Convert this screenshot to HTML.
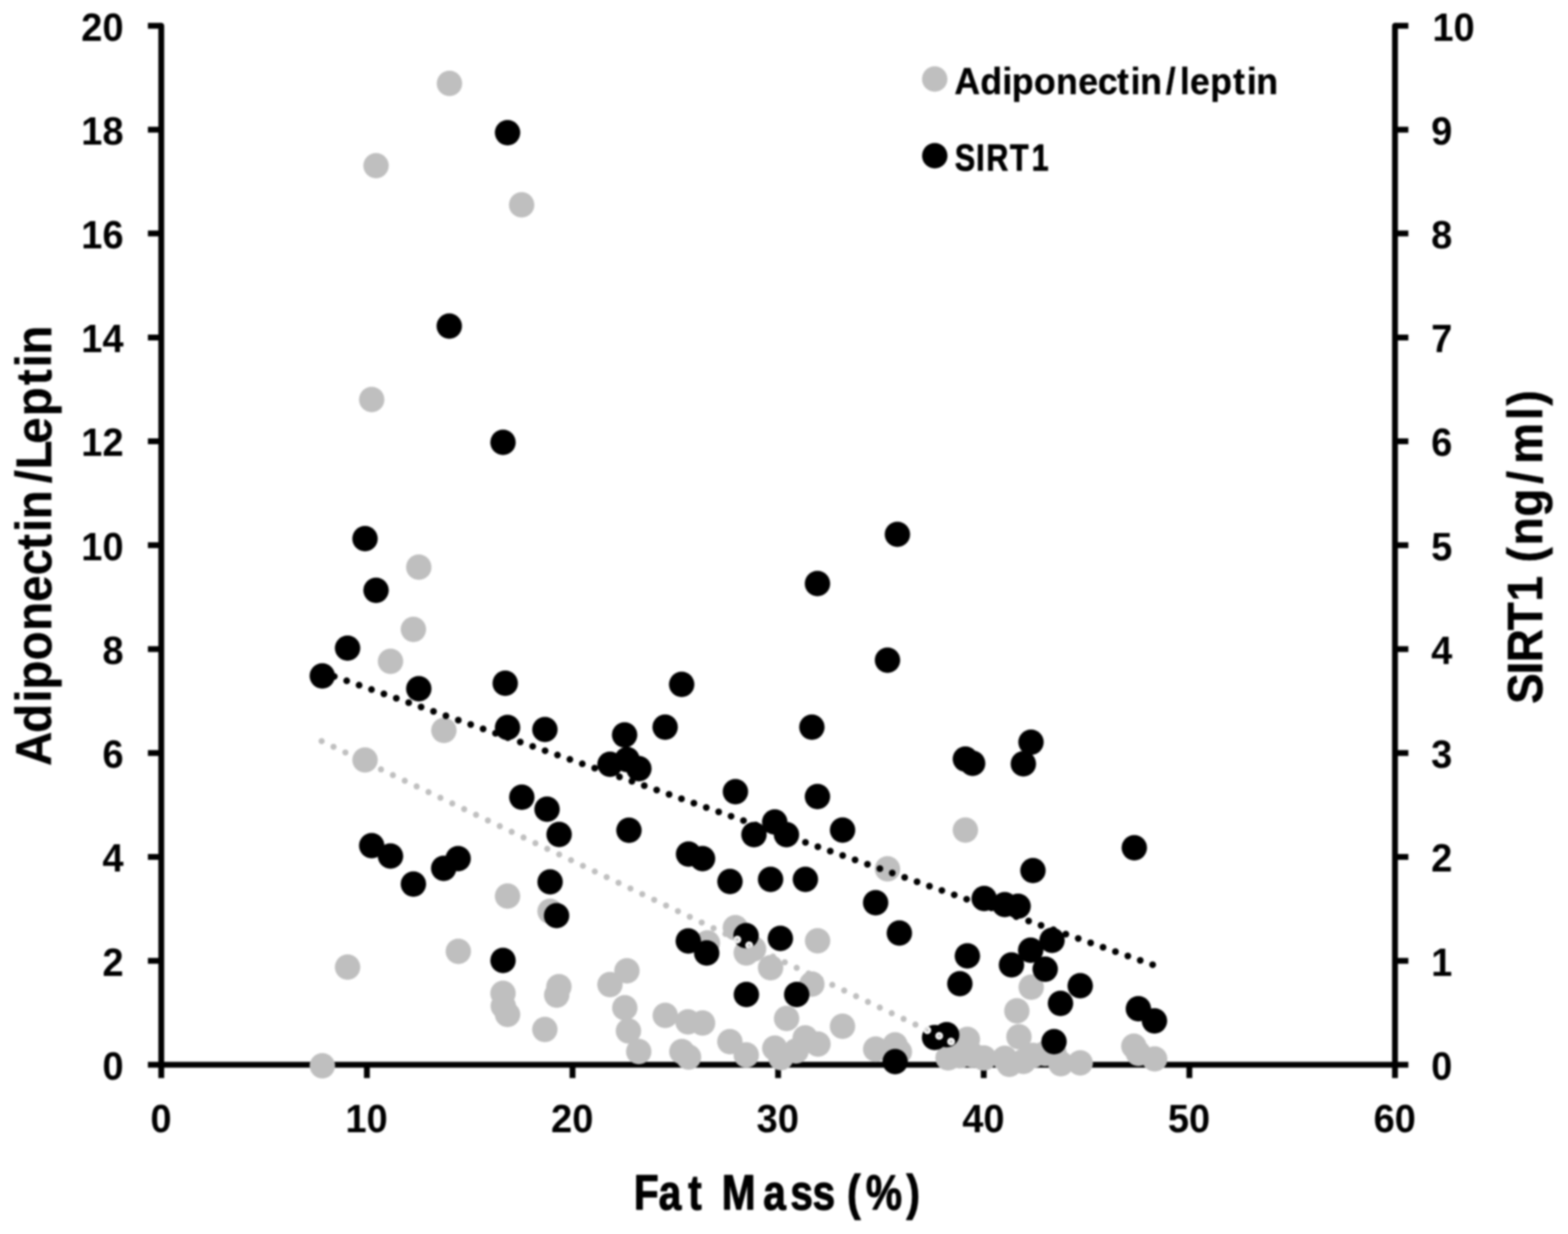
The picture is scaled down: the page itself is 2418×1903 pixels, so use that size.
<!DOCTYPE html>
<html lang="en"><head><meta charset="utf-8">
<title>Adiponectin/Leptin and SIRT1 vs Fat Mass (%)</title>
<style>
html,body{margin:0;padding:0;background:#fff;}
body{width:2418px;height:1903px;overflow:hidden;}
svg{display:block;filter:blur(1.8px);}
text{font-family:"Liberation Sans", sans-serif;font-weight:bold;fill:#000;stroke:#000;stroke-linejoin:round;}
.tk{font-size:61px;stroke-width:0px;}
.ti{font-size:76px;stroke-width:1px;}
.lg{font-size:57.5px;stroke-width:0.8px;}
</style></head><body>
<svg width="2418" height="1903" viewBox="0 0 2418 1903">
<rect width="2418" height="1903" fill="#fff"/>
<g id="axes" fill="none" stroke="#000" stroke-width="9.0" stroke-linecap="butt" stroke-linejoin="round">
<path stroke-linecap="round" d="M248.7 39.7 V1641.9 H2151.2 V39.7"/>
<path d="M248.7 1641.9 h-20.6 M2151.2 1641.9 h20.6 M248.7 1481.7 h-20.6 M2151.2 1481.7 h20.6 M248.7 1321.5 h-20.6 M2151.2 1321.5 h20.6 M248.7 1161.2 h-20.6 M2151.2 1161.2 h20.6 M248.7 1001.0 h-20.6 M2151.2 1001.0 h20.6 M248.7 840.8 h-20.6 M2151.2 840.8 h20.6 M248.7 680.6 h-20.6 M2151.2 680.6 h20.6 M248.7 520.4 h-20.6 M2151.2 520.4 h20.6 M248.7 360.1 h-20.6 M2151.2 360.1 h20.6 M248.7 199.9 h-20.6 M2151.2 199.9 h20.6 M248.7 39.7 h-20.6 M2151.2 39.7 h20.6 M248.7 1641.9 v20.6 M565.8 1641.9 v20.6 M882.9 1641.9 v20.6 M1199.9 1641.9 v20.6 M1517.0 1641.9 v20.6 M1834.1 1641.9 v20.6 M2151.2 1641.9 v20.6"/>
</g>
<g id="ylabels">
<text class="tk" text-anchor="end" transform="translate(190.5 1664.7) scale(0.9600 1)">0</text>
<text class="tk" text-anchor="end" transform="translate(190.5 1504.5) scale(0.9600 1)">2</text>
<text class="tk" text-anchor="end" transform="translate(190.5 1344.3) scale(0.9600 1)">4</text>
<text class="tk" text-anchor="end" transform="translate(190.5 1184.0) scale(0.9600 1)">6</text>
<text class="tk" text-anchor="end" transform="translate(190.5 1023.8) scale(0.9600 1)">8</text>
<text class="tk" text-anchor="end" transform="translate(190.5 863.6) scale(0.9600 1)">10</text>
<text class="tk" text-anchor="end" transform="translate(190.5 703.4) scale(0.9600 1)">12</text>
<text class="tk" text-anchor="end" transform="translate(190.5 543.2) scale(0.9600 1)">14</text>
<text class="tk" text-anchor="end" transform="translate(190.5 382.9) scale(0.9600 1)">16</text>
<text class="tk" text-anchor="end" transform="translate(190.5 222.7) scale(0.9600 1)">18</text>
<text class="tk" text-anchor="end" transform="translate(190.5 62.5) scale(0.9600 1)">20</text>
</g>
<g id="y2labels">
<text class="tk" text-anchor="start" transform="translate(2207.0 1664.7) scale(0.9600 1)">0</text>
<text class="tk" text-anchor="start" transform="translate(2207.0 1504.5) scale(0.9600 1)">1</text>
<text class="tk" text-anchor="start" transform="translate(2207.0 1344.3) scale(0.9600 1)">2</text>
<text class="tk" text-anchor="start" transform="translate(2207.0 1184.0) scale(0.9600 1)">3</text>
<text class="tk" text-anchor="start" transform="translate(2207.0 1023.8) scale(0.9600 1)">4</text>
<text class="tk" text-anchor="start" transform="translate(2207.0 863.6) scale(0.9600 1)">5</text>
<text class="tk" text-anchor="start" transform="translate(2207.0 703.4) scale(0.9600 1)">6</text>
<text class="tk" text-anchor="start" transform="translate(2207.0 543.2) scale(0.9600 1)">7</text>
<text class="tk" text-anchor="start" transform="translate(2207.0 382.9) scale(0.9600 1)">8</text>
<text class="tk" text-anchor="start" transform="translate(2207.0 222.7) scale(0.9600 1)">9</text>
<text class="tk" text-anchor="start" transform="translate(2209.0 62.5) scale(0.9600 1)">10</text>
</g>
<g id="xlabels">
<text class="tk" text-anchor="middle" transform="translate(248.2 1745.6) scale(0.9600 1)">0</text>
<text class="tk" text-anchor="middle" transform="translate(565.3 1745.6) scale(0.9600 1)">10</text>
<text class="tk" text-anchor="middle" transform="translate(882.4 1745.6) scale(0.9600 1)">20</text>
<text class="tk" text-anchor="middle" transform="translate(1199.4 1745.6) scale(0.9600 1)">30</text>
<text class="tk" text-anchor="middle" transform="translate(1516.5 1745.6) scale(0.9600 1)">40</text>
<text class="tk" text-anchor="middle" transform="translate(1833.6 1745.6) scale(0.9600 1)">50</text>
<text class="tk" text-anchor="middle" transform="translate(2150.7 1745.6) scale(0.9600 1)">60</text>
</g>
<text class="ti" style="font-size:75.5px;stroke-width:1.6px" transform="translate(0.0 1864.6) scale(0.8295 1)" x="1178.4 1224.6 1279.4 1304.5 1341.9 1419.0 1469.2 1510.5 1552.5 1574.9 1609.7 1685.2" y="0">Fat Mass (%)</text>
<text class="ti" style="font-size:77px;stroke-width:0.4px" transform="translate(78.6 1178.9) rotate(-90) scale(0.9520 1)" x="-2.5 51.1 100.1 121.2 168.5 216.2 263.4 306.3 347.5 376.6 396.9 455.6 477.9 519.4 563.9 614.3 643.3 663.7" y="0">Adiponectin/Leptin</text>
<text class="ti" style="font-size:76.8px;stroke-width:0.8px" transform="translate(2377.5 1080.5) rotate(-90) scale(0.9214 1)" x="-5.4 43.9 64.3 117.8 166.1 208.9 231.2 260.0 307.9 363.0 396.4 469.7 493.8" y="0">SIRT1 (ng/ml)</text>
<g id="series-adiponectin-leptin" fill="#bfbfbf">
<circle cx="693.1" cy="128.7" r="19.6"/>
<circle cx="579.9" cy="255.5" r="19.6"/>
<circle cx="804.4" cy="315.9" r="19.6"/>
<circle cx="573.2" cy="616.2" r="19.6"/>
<circle cx="645.8" cy="874.7" r="19.6"/>
<circle cx="637.5" cy="970.6" r="19.6"/>
<circle cx="602.2" cy="1019.8" r="19.6"/>
<circle cx="684.5" cy="1126.3" r="19.6"/>
<circle cx="562.9" cy="1172.0" r="19.6"/>
<circle cx="782.7" cy="1381.9" r="19.6"/>
<circle cx="848.2" cy="1405.3" r="19.6"/>
<circle cx="497.1" cy="1643.6" r="19.6"/>
<circle cx="536.0" cy="1491.4" r="19.6"/>
<circle cx="706.8" cy="1467.1" r="19.6"/>
<circle cx="775.7" cy="1531.8" r="19.6"/>
<circle cx="776.1" cy="1551.4" r="19.6"/>
<circle cx="782.7" cy="1564.5" r="19.6"/>
<circle cx="861.9" cy="1521.5" r="19.6"/>
<circle cx="858.5" cy="1534.6" r="19.6"/>
<circle cx="840.2" cy="1587.6" r="19.6"/>
<circle cx="966.8" cy="1497.1" r="19.6"/>
<circle cx="940.6" cy="1518.3" r="19.6"/>
<circle cx="963.5" cy="1554.2" r="19.6"/>
<circle cx="969.1" cy="1589.8" r="19.6"/>
<circle cx="985.0" cy="1621.7" r="19.6"/>
<circle cx="1134.0" cy="1430.6" r="19.6"/>
<circle cx="1090.9" cy="1454.0" r="19.6"/>
<circle cx="1150.8" cy="1469.6" r="19.6"/>
<circle cx="1162.1" cy="1463.4" r="19.6"/>
<circle cx="1188.3" cy="1492.4" r="19.6"/>
<circle cx="1260.8" cy="1450.8" r="19.6"/>
<circle cx="1252.0" cy="1517.7" r="19.6"/>
<circle cx="1025.9" cy="1565.9" r="19.6"/>
<circle cx="1060.9" cy="1575.8" r="19.6"/>
<circle cx="1083.4" cy="1577.7" r="19.6"/>
<circle cx="1213.0" cy="1570.7" r="19.6"/>
<circle cx="1299.2" cy="1582.7" r="19.6"/>
<circle cx="1125.5" cy="1606.3" r="19.6"/>
<circle cx="1150.8" cy="1626.9" r="19.6"/>
<circle cx="1051.5" cy="1621.7" r="19.6"/>
<circle cx="1061.8" cy="1630.1" r="19.6"/>
<circle cx="1194.8" cy="1616.4" r="19.6"/>
<circle cx="1204.2" cy="1631.1" r="19.6"/>
<circle cx="1227.6" cy="1620.7" r="19.6"/>
<circle cx="1241.7" cy="1600.7" r="19.6"/>
<circle cx="1261.4" cy="1610.1" r="19.6"/>
<circle cx="1350.4" cy="1617.9" r="19.6"/>
<circle cx="1380.3" cy="1611.4" r="19.6"/>
<circle cx="1386.9" cy="1622.0" r="19.6"/>
<circle cx="1488.7" cy="1280.1" r="19.6"/>
<circle cx="1368.6" cy="1339.9" r="19.6"/>
<circle cx="1590.2" cy="1522.4" r="19.6"/>
<circle cx="1568.1" cy="1558.9" r="19.6"/>
<circle cx="1571.3" cy="1598.8" r="19.6"/>
<circle cx="1491.8" cy="1602.8" r="19.6"/>
<circle cx="1748.5" cy="1613.3" r="19.6"/>
<circle cx="1755.5" cy="1624.3" r="19.6"/>
<circle cx="1780.6" cy="1633.0" r="19.6"/>
<circle cx="1665.8" cy="1639.2" r="19.6"/>
<circle cx="1635.9" cy="1640.3" r="19.6"/>
<circle cx="1462.0" cy="1631.3" r="19.6"/>
<circle cx="1480.2" cy="1628.2" r="19.6"/>
<circle cx="1499.9" cy="1627.0" r="19.6"/>
<circle cx="1517.2" cy="1631.6" r="19.6"/>
<circle cx="1549.4" cy="1632.2" r="19.6"/>
<circle cx="1556.4" cy="1641.4" r="19.6"/>
<circle cx="1578.2" cy="1636.8" r="19.6"/>
<circle cx="1593.0" cy="1627.5" r="19.6"/>
<circle cx="1611.8" cy="1624.6" r="19.6"/>
<circle cx="1625.4" cy="1624.0" r="19.6"/>
</g>
<g id="series-sirt1" fill="#000">
<circle cx="782.7" cy="204.6" r="19.6"/>
<circle cx="692.8" cy="502.8" r="19.6"/>
<circle cx="775.7" cy="682.2" r="19.6"/>
<circle cx="562.9" cy="830.7" r="19.6"/>
<circle cx="579.9" cy="910.3" r="19.6"/>
<circle cx="536.0" cy="999.5" r="19.6"/>
<circle cx="497.0" cy="1042.3" r="19.6"/>
<circle cx="645.8" cy="1062.1" r="19.6"/>
<circle cx="779.1" cy="1053.7" r="19.6"/>
<circle cx="782.7" cy="1121.9" r="19.6"/>
<circle cx="840.3" cy="1125.0" r="19.6"/>
<circle cx="963.2" cy="1133.3" r="19.6"/>
<circle cx="1025.7" cy="1121.3" r="19.6"/>
<circle cx="1051.2" cy="1055.4" r="19.6"/>
<circle cx="940.7" cy="1178.6" r="19.6"/>
<circle cx="967.1" cy="1171.4" r="19.6"/>
<circle cx="985.2" cy="1185.3" r="19.6"/>
<circle cx="804.7" cy="1229.3" r="19.6"/>
<circle cx="843.6" cy="1247.9" r="19.6"/>
<circle cx="862.2" cy="1286.8" r="19.6"/>
<circle cx="969.9" cy="1280.4" r="19.6"/>
<circle cx="573.2" cy="1304.1" r="19.6"/>
<circle cx="602.2" cy="1320.2" r="19.6"/>
<circle cx="706.5" cy="1324.1" r="19.6"/>
<circle cx="684.2" cy="1339.1" r="19.6"/>
<circle cx="637.5" cy="1363.3" r="19.6"/>
<circle cx="848.3" cy="1360.0" r="19.6"/>
<circle cx="858.3" cy="1412.0" r="19.6"/>
<circle cx="775.7" cy="1481.2" r="19.6"/>
<circle cx="1383.9" cy="824.0" r="19.6"/>
<circle cx="1260.6" cy="899.9" r="19.6"/>
<circle cx="1368.6" cy="1018.1" r="19.6"/>
<circle cx="1252.0" cy="1121.3" r="19.6"/>
<circle cx="1488.7" cy="1170.6" r="19.6"/>
<circle cx="1499.9" cy="1177.2" r="19.6"/>
<circle cx="1589.9" cy="1144.6" r="19.6"/>
<circle cx="1578.1" cy="1177.9" r="19.6"/>
<circle cx="1134.1" cy="1220.8" r="19.6"/>
<circle cx="1260.6" cy="1228.4" r="19.6"/>
<circle cx="1194.7" cy="1267.6" r="19.6"/>
<circle cx="1162.7" cy="1287.1" r="19.6"/>
<circle cx="1212.8" cy="1287.1" r="19.6"/>
<circle cx="1299.3" cy="1280.1" r="19.6"/>
<circle cx="1061.8" cy="1317.1" r="19.6"/>
<circle cx="1083.4" cy="1324.1" r="19.6"/>
<circle cx="1125.7" cy="1359.4" r="19.6"/>
<circle cx="1188.3" cy="1356.1" r="19.6"/>
<circle cx="1242.0" cy="1356.1" r="19.6"/>
<circle cx="1350.3" cy="1392.1" r="19.6"/>
<circle cx="1386.9" cy="1438.9" r="19.6"/>
<circle cx="1592.9" cy="1342.5" r="19.6"/>
<circle cx="1517.7" cy="1385.7" r="19.6"/>
<circle cx="1549.4" cy="1395.0" r="19.6"/>
<circle cx="1570.0" cy="1397.5" r="19.6"/>
<circle cx="1061.4" cy="1451.2" r="19.6"/>
<circle cx="1089.8" cy="1469.7" r="19.6"/>
<circle cx="1150.5" cy="1442.8" r="19.6"/>
<circle cx="1203.4" cy="1447.2" r="19.6"/>
<circle cx="1491.8" cy="1474.2" r="19.6"/>
<circle cx="1559.8" cy="1488.0" r="19.6"/>
<circle cx="1589.4" cy="1465.3" r="19.6"/>
<circle cx="1480.2" cy="1517.0" r="19.6"/>
<circle cx="1151.0" cy="1533.7" r="19.6"/>
<circle cx="1228.6" cy="1533.7" r="19.6"/>
<circle cx="1441.2" cy="1600.0" r="19.6"/>
<circle cx="1459.8" cy="1595.7" r="19.6"/>
<circle cx="1380.4" cy="1637.2" r="19.6"/>
<circle cx="1622.3" cy="1450.2" r="19.6"/>
<circle cx="1611.8" cy="1494.6" r="19.6"/>
<circle cx="1665.8" cy="1520.2" r="19.6"/>
<circle cx="1635.4" cy="1547.3" r="19.6"/>
<circle cx="1625.4" cy="1606.3" r="19.6"/>
<circle cx="1755.5" cy="1555.7" r="19.6"/>
<circle cx="1780.3" cy="1574.3" r="19.6"/>
<circle cx="1749.2" cy="1307.3" r="19.6"/>
</g>
<clipPath id="plot"><rect x="248.7" y="0" width="1902.5" height="1644.9"/></clipPath>
<clipPath id="onblack"><circle cx="1150.5" cy="1442.8" r="19.6"/><circle cx="1441.2" cy="1600.0" r="19.6"/><circle cx="1459.8" cy="1595.7" r="19.6"/></clipPath>
<line id="trend-adiponectin-leptin" x1="496.00" y1="1142.90" x2="1545.39" y2="1643.87" stroke="#bfbfbf" stroke-width="9.5" stroke-linecap="round" stroke-dasharray="0 20.294" clip-path="url(#plot)"/>
<g clip-path="url(#onblack)">
<line id="trend-halo" x1="496.00" y1="1142.90" x2="1545.39" y2="1643.87" stroke="#fff" stroke-width="12.0" stroke-linecap="round" stroke-dasharray="0 20.294" />
<line id="trend-core" x1="496.00" y1="1142.90" x2="1545.39" y2="1643.87" stroke="#d0d0d0" stroke-width="6.0" stroke-linecap="round" stroke-dasharray="0 20.294" />
</g>
<line id="trend-sirt1" x1="496.40" y1="1036.40" x2="1783.18" y2="1489.67" stroke="#000" stroke-width="10.5" stroke-linecap="round" stroke-dasharray="0 20.272" />
<g id="legend">
<circle cx="1441.4" cy="121.9" r="19.6" fill="#bfbfbf"/>
<circle cx="1441.5" cy="240.2" r="19.6" fill="#000"/>
<text class="lg" style="font-size:57.8px;stroke-width:0.5px" transform="translate(0.0 144.7) scale(0.9490 1)" x="1550.8 1593.0 1628.8 1644.0 1680.1 1716.1 1752.1 1784.0 1815.2 1837.2 1852.7 1894.5 1917.2 1933.6 1966.5 2003.8 2026.0 2041.5" y="0">Adiponectin/leptin</text>
<text class="lg" style="font-size:57.3px;stroke-width:1.2px" transform="translate(0.0 263.0) scale(0.8187 1)" x="1798.7 1838.7 1857.7 1902.4 1943.2" y="0">SIRT1</text>
</g>
</svg>
</body></html>
